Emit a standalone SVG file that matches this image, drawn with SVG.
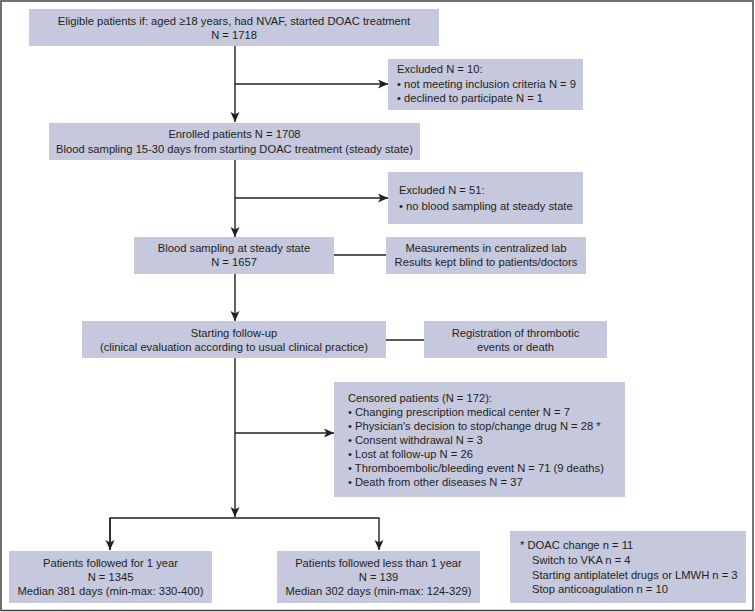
<svg xmlns="http://www.w3.org/2000/svg" width="755" height="612" viewBox="0 0 755 612">
<style>
.box{fill:#c6c8dd;}
.t{font-family:"Liberation Sans",Arial,sans-serif;font-size:11.2px;fill:#231f20;}
.c{text-anchor:middle;}
.ln{stroke:#231f20;stroke-width:1.4;fill:none;}
</style>
<defs>
<marker id="ah" markerWidth="12" markerHeight="10" refX="10" refY="4.5" orient="auto" markerUnits="userSpaceOnUse">
<path d="M0,0 L10,4.5 L0,9 L2.5,4.5 Z" fill="#231f20"/>
</marker>
</defs>
<rect x="1" y="1" width="752" height="609.5" fill="#fff" stroke="#444" stroke-width="1.5"/>
<g id="connectors">
<path class="ln" d="M235,46 V122" marker-end="url(#ah)"/>
<path class="ln" d="M235,84 H388" marker-end="url(#ah)"/>
<path class="ln" d="M235,160 V237" marker-end="url(#ah)"/>
<path class="ln" d="M235,198 H388" marker-end="url(#ah)"/>
<path class="ln" d="M334,255 H386"/>
<path class="ln" d="M235,274 V321" marker-end="url(#ah)"/>
<path class="ln" d="M386,340 H424"/>
<path class="ln" d="M235,358 V517" marker-end="url(#ah)"/>
<path class="ln" d="M235,433 H334" marker-end="url(#ah)"/>
<path class="ln" d="M110,550 V518 H379 V550" marker-end="url(#ah)"/>
<path class="ln" d="M110,518 V550" marker-end="url(#ah)"/>
</g>
<g id="eligible">
<rect class="box" x="29" y="9" width="410" height="37"/>
<text class="t c" x="234" y="24.5">Eligible patients if: aged ≥18 years, had NVAF, started DOAC treatment</text>
<text class="t c" x="234" y="38.5">N = 1718</text>
</g>
<g id="excluded1">
<rect class="box" x="388" y="59" width="195" height="51"/>
<text class="t" x="397" y="73">Excluded N = 10:</text>
<text class="t" x="397" y="88">• not meeting inclusion criteria N = 9</text>
<text class="t" x="397" y="102">• declined to participate N = 1</text>
</g>
<g id="enrolled">
<rect class="box" x="49" y="123" width="371" height="37"/>
<text class="t c" x="234.5" y="138">Enrolled patients N = 1708</text>
<text class="t c" x="234.5" y="152.5">Blood sampling 15-30 days from starting DOAC treatment (steady state)</text>
</g>
<g id="excluded2">
<rect class="box" x="388" y="172" width="195" height="52"/>
<text class="t" x="399" y="194">Excluded N = 51:</text>
<text class="t" x="399" y="210">• no blood sampling at steady state</text>
</g>
<g id="steady">
<rect class="box" x="134" y="237" width="200" height="37"/>
<text class="t c" x="234" y="252">Blood sampling at steady state</text>
<text class="t c" x="234" y="266">N = 1657</text>
</g>
<g id="lab">
<rect class="box" x="386" y="237" width="200" height="37"/>
<text class="t c" x="486" y="252">Measurements in centralized lab</text>
<text class="t c" x="486" y="266">Results kept blind to patients/doctors</text>
</g>
<g id="followup">
<rect class="box" x="82" y="321" width="304" height="37"/>
<text class="t c" x="234" y="337">Starting follow-up</text>
<text class="t c" x="234" y="351">(clinical evaluation according to usual clinical practice)</text>
</g>
<g id="registration">
<rect class="box" x="424" y="321" width="183" height="37"/>
<text class="t c" x="515.5" y="337">Registration of thrombotic</text>
<text class="t c" x="515.5" y="351">events or death</text>
</g>
<g id="censored">
<rect class="box" x="334" y="382" width="291" height="115"/>
<text class="t" x="348" y="402">Censored patients (N = 172):</text>
<text class="t" x="348" y="416">• Changing prescription medical center N = 7</text>
<text class="t" x="348" y="430">• Physician's decision to stop/change drug N = 28 *</text>
<text class="t" x="348" y="443.5">• Consent withdrawal N = 3</text>
<text class="t" x="348" y="457.5">• Lost at follow-up N = 26</text>
<text class="t" x="348" y="471.5">• Thromboembolic/bleeding event N = 71 (9 deaths)</text>
<text class="t" x="348" y="485.5">• Death from other diseases N = 37</text>
</g>
<g id="oneyear">
<rect class="box" x="9" y="551" width="203" height="52"/>
<text class="t c" x="110.5" y="567">Patients followed for 1 year</text>
<text class="t c" x="110.5" y="581">N = 1345</text>
<text class="t c" x="110.5" y="595">Median 381 days (min-max: 330-400)</text>
</g>
<g id="lessyear">
<rect class="box" x="277" y="551" width="203" height="52"/>
<text class="t c" x="378.5" y="567">Patients followed less than 1 year</text>
<text class="t c" x="378.5" y="581">N = 139</text>
<text class="t c" x="378.5" y="595">Median 302 days (min-max: 124-329)</text>
</g>
<g id="note">
<rect class="box" x="510" y="531" width="236" height="72"/>
<text class="t" x="520" y="549">* DOAC change n = 11</text>
<text class="t" x="532" y="564">Switch to VKA n = 4</text>
<text class="t" x="532" y="579">Starting antiplatelet drugs or LMWH n = 3</text>
<text class="t" x="532" y="593">Stop anticoagulation n = 10</text>
</g>
</svg>
